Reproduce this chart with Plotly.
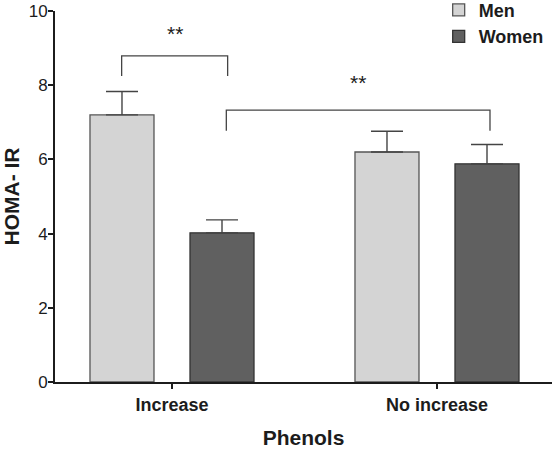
import plotly.graph_objects as go

categories = ["Increase", "No increase"]
men = [7.2, 6.2]
men_err = [0.63, 0.56]
women = [4.02, 5.88]
women_err = [0.35, 0.52]
y_ticks = [0, 2, 4, 6, 8, 10]

FONT = "Arial, Liberation Sans, sans-serif"
INK = "#1c1c1c"

fig = go.Figure()
fig.add_trace(go.Bar(
    x=categories, y=men, name="<b>Men</b>",
    marker=dict(color="#d4d4d4", line=dict(color="#555555", width=1.3)),
    error_y=dict(type="data", array=men_err, arrayminus=[0, 0], symmetric=False,
                 color="#444444", thickness=1.4, width=16),
))
fig.add_trace(go.Bar(
    x=categories, y=women, name="<b>Women</b>",
    marker=dict(color="#606060", line=dict(color="#333333", width=1.3)),
    error_y=dict(type="data", array=women_err, arrayminus=[0, 0], symmetric=False,
                 color="#444444", thickness=1.4, width=16),
))

# significance brackets
def bracket(x0, x1, ytop, yleg, text, ytext):
    fig.add_shape(type="path",
                  path=f"M {x0},{yleg} L {x0},{ytop} L {x1},{ytop} L {x1},{yleg}",
                  line=dict(color="#444444", width=1.3), xref="x", yref="y")
    fig.add_annotation(x=(x0 + x1) / 2, y=ytext, text=text, showarrow=False,
                       font=dict(family=FONT, size=21, color=INK), xref="x", yref="y")

bracket(-0.19, 0.21, 8.79, 8.25, "**", 9.4)
bracket(0.205, 1.2, 7.33, 6.77, "**", 8.08)

fig.update_layout(
    width=556, height=449,
    margin=dict(l=55, r=4, t=11, b=67, autoexpand=False),
    plot_bgcolor="white", paper_bgcolor="white",
    barmode="group", bargap=0.2452, bargroupgap=0.36,
    showlegend=True,
    legend=dict(x=0.772, y=1.052, xanchor="left", yanchor="top",
                font=dict(family=FONT, size=18, color=INK),
                bgcolor="rgba(0,0,0,0)", tracegroupgap=0, itemwidth=30),
    font=dict(family=FONT, color=INK),
    xaxis=dict(
        range=[-0.4415, 1.434], showline=True, linecolor=INK, linewidth=2,
        ticks="outside", ticklen=5, tickwidth=2, tickcolor=INK,
        tickfont=dict(family=FONT, size=18, color=INK),
        tickprefix="<b>", ticksuffix="</b>",
        title=dict(text="<b>Phenols</b>", font=dict(family=FONT, size=21, color=INK), standoff=18),
        showgrid=False, zeroline=False, automargin=False,
    ),
    yaxis=dict(
        range=[0, 10], tickvals=y_ticks, showline=True, linecolor=INK, linewidth=2,
        ticks="outside", ticklen=5, tickwidth=2, tickcolor=INK,
        tickfont=dict(family=FONT, size=17, color=INK),
        tickprefix="<b>", ticksuffix="</b>", ticklabelstandoff=-3,
        title=dict(text="<b>HOMA- IR</b>", font=dict(family=FONT, size=21, color=INK), standoff=6),
        showgrid=False, zeroline=False, automargin=False,
    ),
)

fig.write_html("out.html", config={"displayModeBar": False},
               post_script="document.body.style.margin='0px';")
